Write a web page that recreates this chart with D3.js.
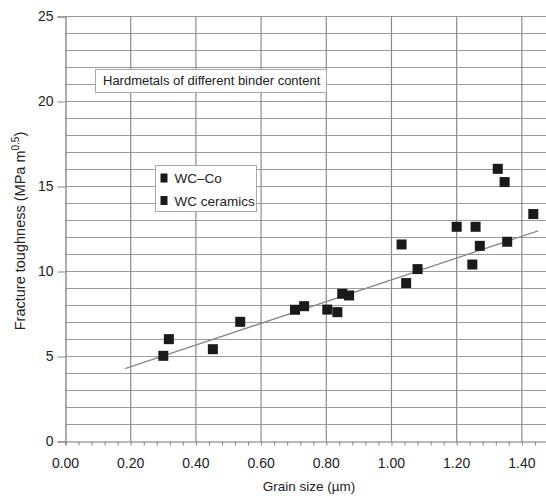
<!DOCTYPE html>
<html>
<head>
<meta charset="utf-8">
<script src="https://cdn.jsdelivr.net/npm/d3@7"></script>
<style>
  body { margin: 0; background: #fff; }
  svg { display: block; font-family: 'Liberation Sans', Arial, sans-serif; }
</style>
</head>
<body>
<div id="chart"></div>
<script>
const width = 546
const height = 496

// grain size (um) vs fracture toughness (MPa m^0.5)
const wcCoX = [0.317, 0.536, 0.704, 0.732, 0.803, 0.834, 0.849, 0.870, 1.031, 1.045, 1.080, 1.200, 1.248, 1.258, 1.271, 1.326, 1.347, 1.355, 1.435]
const wcCoY = [6.02, 7.04, 7.75, 7.96, 7.76, 7.61, 8.69, 8.59, 11.59, 9.32, 10.14, 12.63, 10.41, 12.63, 11.51, 16.04, 15.26, 11.75, 13.38]
const ceramX = [0.300, 0.452]
const ceramY = [5.04, 5.43]

const trendX = [0.1825, 1.45]
const trendY = [4.28, 12.39]

const xTicks = [0, 0.2, 0.4, 0.6, 0.8, 1.0, 1.2, 1.4]
const yTicks = [0, 5, 10, 15, 20, 25]
const legendNames = ['WC\u2013Co', 'WC ceramics']
const title = 'Hardmetals of different binder content'

const x = d3.scaleLinear().domain([0, 1.474]).range([65.5, 546])
const y = d3.scaleLinear().domain([0, 25]).range([441.5, 16.5])

const svg = d3.select('#chart').append('svg')
  .attr('width', width)
  .attr('height', height)

// grid
svg.append('g').selectAll('line')
  .data(d3.range(1, 26))
  .enter().append('line')
  .attr('x1', x(0)).attr('x2', width)
  .attr('y1', d => y(d)).attr('y2', d => y(d))
  .attr('stroke', '#9a9a9a').attr('stroke-width', 1.2)

svg.append('g').selectAll('line')
  .data(xTicks.slice(1))
  .enter().append('line')
  .attr('x1', d => x(d)).attr('x2', d => x(d))
  .attr('y1', y(25)).attr('y2', y(0))
  .attr('stroke', '#8a8a8a').attr('stroke-width', 1.2)

// axes
const xAxis = d3.axisBottom(x)
  .tickValues(d3.range(0, 1.47, 0.04))
  .tickSize(4)
  .tickFormat('')
const gx = svg.append('g')
  .attr('transform', `translate(0,${y(0)})`)
  .call(xAxis)
gx.select('.domain').attr('stroke', '#777').attr('stroke-width', 1.2)
gx.selectAll('.tick line').attr('stroke', '#888')

svg.append('g').selectAll('text')
  .data(xTicks)
  .enter().append('text')
  .attr('x', d => x(d))
  .attr('y', 468)
  .attr('text-anchor', 'middle')
  .attr('font-size', 14)
  .attr('fill', '#222')
  .text(d => d.toFixed(2))

const yAxis = d3.axisLeft(y).tickValues(yTicks).tickSize(8).tickPadding(4)
const gy = svg.append('g')
  .attr('transform', `translate(${x(0)},0)`)
  .call(yAxis)
gy.select('.domain').attr('stroke', '#777').attr('stroke-width', 1.2)
gy.selectAll('.tick line').attr('stroke', '#888')
gy.selectAll('.tick text')
  .attr('font-size', 14)
  .attr('fill', '#222')
  .attr('font-family', "'Liberation Sans', Arial, sans-serif")

// axis titles
svg.append('text')
  .attr('x', 309)
  .attr('y', 491)
  .attr('text-anchor', 'middle')
  .attr('font-size', 13.5)
  .attr('fill', '#222')
  .text('Grain size (\u00b5m)')

const yl = svg.append('text')
  .attr('transform', 'translate(25,231) rotate(-90)')
  .attr('text-anchor', 'middle')
  .attr('font-size', 14.5)
  .attr('fill', '#222')
yl.append('tspan').text('Fracture toughness (MPa m')
yl.append('tspan').attr('dy', -6).attr('font-size', 10).text('0.5')
yl.append('tspan').attr('dy', 6).text(')')

// trend line
svg.append('line')
  .attr('x1', x(trendX[0])).attr('y1', y(trendY[0]))
  .attr('x2', x(trendX[1])).attr('y2', y(trendY[1]))
  .attr('stroke', '#888').attr('stroke-width', 1.3)

// points
const pts = wcCoX.map((d, i) => ({ x: d, y: wcCoY[i] }))
  .concat(ceramX.map((d, i) => ({ x: d, y: ceramY[i] })))
svg.append('g').selectAll('rect')
  .data(pts)
  .enter().append('rect')
  .attr('x', d => x(d.x) - 5)
  .attr('y', d => y(d.y) - 5)
  .attr('width', 10)
  .attr('height', 10)
  .attr('fill', '#1a1a1a')

// title box
svg.append('rect')
  .attr('x', 95.5).attr('y', 69.5)
  .attr('width', 231).attr('height', 23)
  .attr('fill', '#fff').attr('stroke', '#aaa')
svg.append('text')
  .attr('x', 103).attr('y', 85)
  .attr('font-size', 13)
  .attr('fill', '#222')
  .text(title)

// legend
svg.append('rect')
  .attr('x', 155.5).attr('y', 165.5)
  .attr('width', 101).attr('height', 46)
  .attr('fill', '#fff').attr('stroke', '#aaa')
const lg = svg.append('g').selectAll('g')
  .data(legendNames)
  .enter().append('g')
  .attr('transform', (d, i) => `translate(0,${178 + i * 22.5})`)
lg.append('rect')
  .attr('x', 160.5).attr('y', -4.5)
  .attr('width', 7).attr('height', 9)
  .attr('fill', '#1a1a1a')
lg.append('text')
  .attr('x', 174.5).attr('y', 5)
  .attr('font-size', 13.5)
  .attr('fill', '#222')
  .text(d => d)
</script>
</body>
</html>
